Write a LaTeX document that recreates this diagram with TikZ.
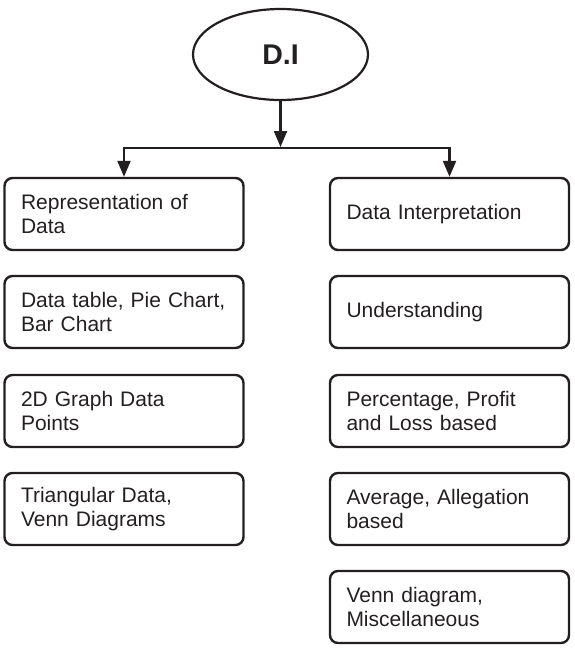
\documentclass[tikz,border=0pt]{standalone}
\usepackage{fontspec}
\setmainfont{Liberation Sans}
\usetikzlibrary{shapes.geometric,arrows.meta}
\definecolor{ink}{HTML}{231F20}
\begin{document}
\begin{tikzpicture}[x=1pt,y=1pt,
  box/.style={draw=ink, line width=2.4pt, rounded corners=8pt, rectangle,
    text width=206pt, inner xsep=16.5pt, inner ysep=0pt, minimum height=72pt,
    align=left, font=\fontsize{21}{23.5}\selectfont, text=ink},
  top/.style={draw=ink, ellipse, line width=2.2pt, minimum width=175pt, minimum height=91pt,
    inner sep=0pt, text=ink, font=\fontsize{28.5}{30}\selectfont\bfseries},
  arr/.style={draw=ink, line width=2.2pt, -{Triangle[width=13pt,length=16pt]}}]
\useasboundingbox (0,0) rectangle (575,-648);
\node[top] (di) at (280.5,-54.5) {D.I};
\node[box] (l1) at (124,-214) {Representation of\\Data};
\node[box] (l2) at (124,-312) {Data table, Pie Chart,\\Bar Chart};
\node[box] (l3) at (124,-411) {2D Graph Data\\Points};
\node[box] (l4) at (124,-509) {Triangular Data,\\Venn Diagrams};
\node[box] (r1) at (449.5,-214) {Data Interpretation};
\node[box] (r2) at (449.5,-312) {Understanding};
\node[box] (r3) at (449.5,-411) {Percentage, Profit\\and Loss based};
\node[box] (r4) at (449.5,-509) {Average, Allegation\\based};
\node[box] (r5) at (449.5,-607) {Venn diagram,\\Miscellaneous};
\coordinate (j) at (280.5,-148);
\draw[arr] (di.south) -- ([yshift=1pt]j);
\draw[arr] (j) -| (l1.north);
\draw[arr] (j) -| (r1.north);
\end{tikzpicture}
\end{document}
